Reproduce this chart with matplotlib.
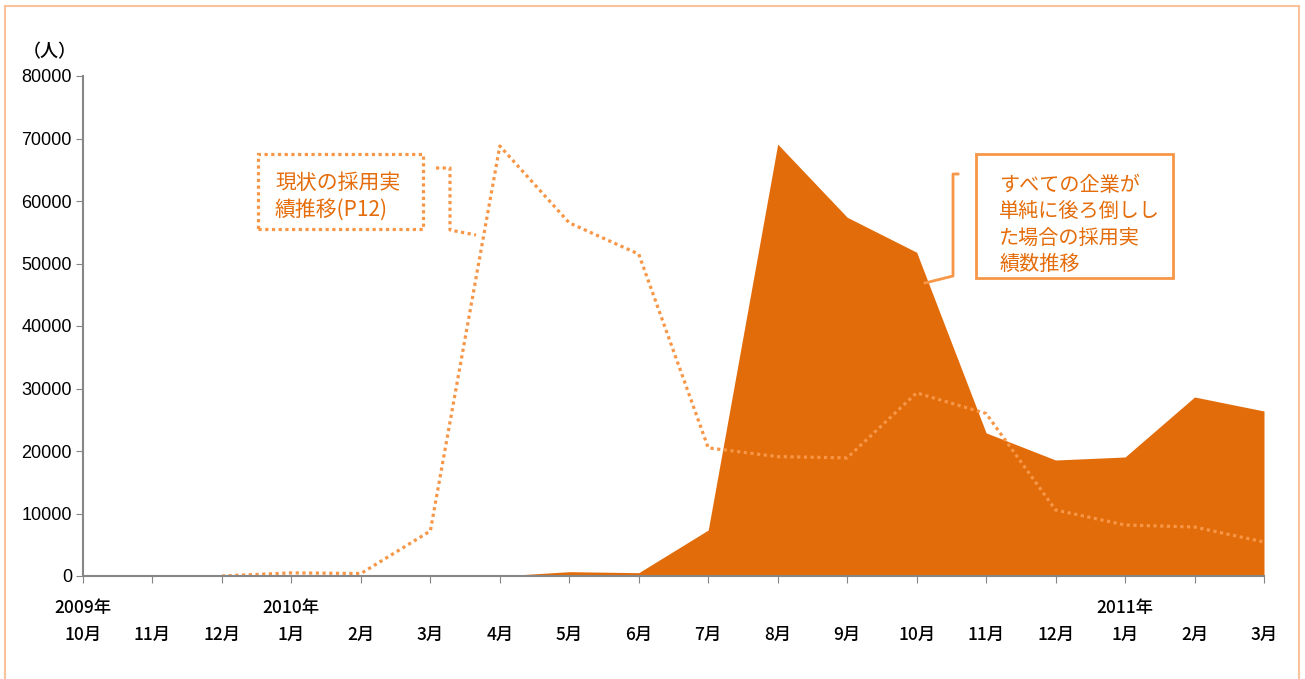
import matplotlib.pyplot as plt
import matplotlib.patches as mpatches
from matplotlib.lines import Line2D
import numpy as np

W, H = 1305, 679

months = ["10月", "11月", "12月", "1月", "2月", "3月", "4月", "5月", "6月",
          "7月", "8月", "9月", "10月", "11月", "12月", "1月", "2月", "3月"]
years = {0: "2009年", 3: "2010年", 15: "2011年"}

# all companies hiring late (area)
shifted = [0, 0, 0, 0, 0, 0, 0, 690, 530, 7360, 69100, 57400, 51800,
           22900, 18560, 19040, 28640, 26400]
# current hiring record (dotted)
current = [np.nan, np.nan, 0, 500, 400, 7200, 68800, 56500, 51500, 20500,
           19100, 18900, 29300, 26000, 10560, 8160, 7840, 5440]

FILL = "#E36C0A"
LINE = "#F79646"
TEXT = "#E46C0A"
JP = ["Noto Sans CJK JP", "DejaVu Sans"]


def px(x, y):
    # pixel position -> figure fraction
    return x / W, 1 - y / H


fig = plt.figure(figsize=(W / 100, H / 100), dpi=100)
l, b = px(83, 576)
r, t = px(1264, 76)
ax = fig.add_axes([l, b, r - l, t - b])

x = np.arange(len(months))
ax.fill_between(x, shifted, 0, color=FILL, lw=0, zorder=2)
ax.plot(x, current, color=LINE, lw=2.3, linestyle=(0, (1, 1.1)),
        dash_capstyle="butt", zorder=3)

ax.set_xlim(0, len(months) - 1)
ax.set_ylim(0, 80000)
ax.set_yticks(np.arange(0, 80001, 10000))
ax.set_yticklabels([str(v) for v in range(0, 80001, 10000)],
                   family="Liberation Sans", fontsize=13)
ax.set_xticks(x)
ax.set_xticklabels(months, family=JP, fontsize=12.5, weight="medium")
ax.tick_params(axis="x", length=5, color="#868686", pad=31)
ax.tick_params(axis="y", length=5, color="#868686", pad=3)
for s in ["top", "right"]:
    ax.spines[s].set_visible(False)
for s in ["left", "bottom"]:
    ax.spines[s].set_color("#868686")
    ax.spines[s].set_linewidth(1.5)
ax.spines["bottom"].set_zorder(4)

trans = ax.get_xaxis_transform()
for i, yr in years.items():
    ax.text(i, -0.063, yr, transform=trans, ha="center", va="center",
            family=JP, fontsize=12.5, weight="medium", clip_on=False)

fig.text(*px(50, 52), "（人）", ha="center", va="center", family=JP,
         fontsize=13, weight="medium")

# outer frame
fig.add_artist(mpatches.Rectangle(px(5, 700), 1294 / W, 694 / H, fill=False,
                                  ec="#FAC29A", lw=1.5, transform=fig.transFigure))

# left callout (dotted)
x0, y1 = px(258, 229)
x1, y0 = px(423, 154)
fig.add_artist(mpatches.Rectangle((x0, y1), x1 - x0, y0 - y1, fill=False,
                                  ec=LINE, lw=2.3, linestyle=(0, (1, 1.1)),
                                  transform=fig.transFigure))
fig.text(*px(275, 197), "現状の採用実\n績推移(P12)", ha="left", va="center",
         family=JP, fontsize=15, color=TEXT, linespacing=1.3)
pts = [px(436, 168), px(450, 168), px(450, 230), px(476, 235)]
fig.add_artist(Line2D([p[0] for p in pts], [p[1] for p in pts], color=LINE,
                      lw=2.3, linestyle=(0, (1, 1.1)), transform=fig.transFigure))

# right callout (solid)
x0, y1 = px(976, 278)
x1, y0 = px(1173, 154)
fig.add_artist(mpatches.Rectangle((x0, y1), x1 - x0, y0 - y1, fill=False,
                                  ec=LINE, lw=2, transform=fig.transFigure))
fig.text(*px(999, 225), "すべての企業が\n単純に後ろ倒しし\nた場合の採用実\n績数推移",
         ha="left", va="center", family=JP, fontsize=14.5, color=TEXT,
         linespacing=1.32)
pts = [px(925, 283), px(953, 276), px(953, 174), px(958, 174)]
fig.add_artist(Line2D([p[0] for p in pts], [p[1] for p in pts], color=LINE,
                      lw=2, transform=fig.transFigure))

fig.savefig("out.png", dpi=100)
